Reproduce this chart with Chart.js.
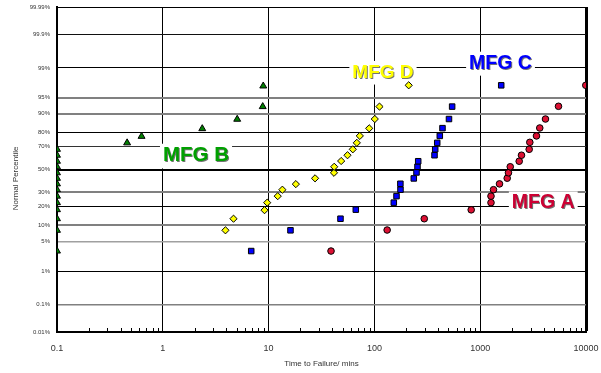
<!DOCTYPE html>
<html><head><meta charset="utf-8">
<script src="https://cdn.jsdelivr.net/npm/chart.js@4/dist/chart.umd.min.js"></script>
<style>html,body{margin:0;padding:0;background:#fff}#wrap{width:601px;height:373px;position:relative}</style>
</head><body><div id="wrap"><canvas id="c" width="601" height="373"></canvas></div>
<script>
// ---- data ----
const percentTicks = [0.01, 0.1, 1, 5, 10, 20, 30, 50, 70, 80, 90, 95, 99, 99.9, 99.99];
const percentTickLabels = ['0.01%','0.1%','1%','5%','10%','20%','30%','50%','70%','80%','90%','95%','99%','99.9%','99.99%'];
const timeTicks = [0.1, 1, 10, 100, 1000, 10000];
const timeTickLabels = ['0.1','1','10','100','1000','10000'];

const mfgA_time = [38.9,132,296,822,1265,1265,1336,1522,1800,1850,1923,2337,2456,2904,2944,3404,3656,4140,5496,9955];
const mfgA_pct  = [3.1,8.3,13.0,17.8,22.4,27.1,32.2,37.1,42.1,47.0,52.5,57.5,62.8,67.8,73.3,77.9,82.9,87.6,92.6,97.3];

const mfgB_time = [0.1,0.1,0.1,0.1,0.1,0.1,0.1,0.1,0.1,0.1,0.1,0.1,0.1,0.1,0.46,0.63,2.36,5.05,8.8,8.9];
const mfgB_pct  = [3.1,8.2,13.0,17.9,22.4,27.1,32.2,37.1,42.0,47.0,52.5,57.5,62.8,67.8,72.9,77.6,82.5,87.5,92.5,97.2];

const mfgC_time = [6.85,16.1,47.8,66.7,152.5,161.8,176.4,176,235.6,250,255.5,259.4,370,375.6,392.5,415,440,507,543,1580];
const mfgC_pct  = [3.1,8.2,13.0,17.9,22.4,27.1,32.2,37.2,41.9,47.3,52.5,57.5,62.8,67.8,72.9,77.9,82.8,87.6,92.5,97.3];

const mfgD_time = [3.91,4.66,9.15,9.7,12.2,13.5,18.1,27.5,41.5,41.7,48.5,55.7,62.5,68.2,72.8,89.3,100.9,111.7,211];
const mfgD_pct  = [8.2,13.0,17.6,22.4,27.1,32.2,36.9,42.0,47.0,52.5,57.7,62.8,67.8,72.9,77.9,82.7,87.6,92.5,97.3];

const noteTexts = ['MFG A','MFG B','MFG C','MFG D'];
const noteTimes = [3945, 2.06, 1556, 120.5];
const notePcts  = [23.25, 63.8, 99.32, 98.81];

// ---- styles ----
const noteColors = ['#cc0033','#00a000','#0000ff','#ffff00'];
const noteSizes = [19.5, 20.5, 19.5, 19];
const FONT = '"Liberation Sans", Arial, Helvetica, sans-serif';
const yGrid = {
  0.01:['rgba(0,0,0,0)',1], 0.1:['#808080',1.5], 1:['#000',1], 5:['#a0a0a0',1.5], 10:['#808080',2],
  20:['#000',1], 30:['#808080',2], 50:['#000',2], 70:['#333',1], 80:['#000',1], 90:['#808080',2],
  95:['#808080',2], 99:['#000',1], 99.9:['#111',1], 99.99:['#000',1]
};

// inverse normal CDF (normal probability scale transform)
function probit(p){
  const a=[-3.969683028665376e+01,2.209460984245205e+02,-2.759285104469687e+02,1.383577518672690e+02,-3.066479806614716e+01,2.506628277459239e+00];
  const b=[-5.447609879822406e+01,1.615858368580409e+02,-1.556989798598866e+02,6.680131188771972e+01,-1.328068155288572e+01];
  const c=[-7.784894002430293e-03,-3.223964580411365e-01,-2.400758277161838e+00,-2.549732539343734e+00,4.374664141464968e+00,2.938163982698783e+00];
  const d=[7.784695709041462e-03,3.224671290700398e-01,2.445134137142996e+00,3.754408661907416e+00];
  const pl=0.02425, ph=1-pl; let q,r;
  if(p<pl){q=Math.sqrt(-2*Math.log(p));return (((((c[0]*q+c[1])*q+c[2])*q+c[3])*q+c[4])*q+c[5])/((((d[0]*q+d[1])*q+d[2])*q+d[3])*q+1);}
  if(p>ph){q=Math.sqrt(-2*Math.log(1-p));return -(((((c[0]*q+c[1])*q+c[2])*q+c[3])*q+c[4])*q+c[5])/((((d[0]*q+d[1])*q+d[2])*q+d[3])*q+1);}
  q=p-0.5;r=q*q;return (((((a[0]*r+a[1])*r+a[2])*r+a[3])*r+a[4])*r+a[5])*q/(((((b[0]*r+b[1])*r+b[2])*r+b[3])*r+b[4])*r+1);
}
const pts = (t, p) => t.map((v,i)=>({x:v, y:probit(p[i]/100)}));

const notesPlugin = {
  id:'notes',
  beforeDatasetsDraw(chart){
    const {ctx, scales:{x, y}} = chart;
    ctx.save();
    noteTexts.forEach((t,i)=>{
      const fs = noteSizes[i];
      ctx.font = 'bold ' + fs + 'px ' + FONT;
      const cx = x.getPixelForValue(noteTimes[i]);
      const cy = y.getPixelForValue(probit(notePcts[i]/100));
      const w = ctx.measureText(t).width;
      const cap = fs*0.716;
      ctx.fillStyle = '#fff';
      ctx.fillRect(cx - w/2 - 3, cy - cap/2 - 3, w + 6, cap + 10);
      ctx.shadowColor = 'rgba(0,0,0,0.55)'; ctx.shadowOffsetX = 1; ctx.shadowOffsetY = 1; ctx.shadowBlur = 0.5;
      ctx.fillStyle = noteColors[i];
      ctx.textAlign = 'center'; ctx.textBaseline = 'alphabetic';
      ctx.fillText(t, cx, cy + cap/2);
      ctx.shadowColor = 'rgba(0,0,0,0)';
    });
    ctx.restore();
  }
};

const minorTicksPlugin = {
  id:'minorTicks',
  beforeDatasetsDraw(chart){
    const {ctx, chartArea, scales:{x}} = chart;
    ctx.save();
    ctx.strokeStyle = '#000'; ctx.lineWidth = 1;
    ctx.beginPath();
    timeTicks.slice(0,-1).forEach(dec=>{
      for(let m=2;m<=9;m++){
        const px = Math.round(x.getPixelForValue(dec*m)) + 0.5;
        ctx.moveTo(px, chartArea.bottom);
        ctx.lineTo(px, chartArea.bottom - 4);
      }
    });
    ctx.stroke();
    ctx.restore();
  }
};

new Chart(document.getElementById('c'), {
  type:'scatter',
  data:{datasets:[
    {label:'MFG B', data:pts(mfgB_time, mfgB_pct), pointStyle:'triangle', pointRadius:4, backgroundColor:'#008000', borderColor:'#000', borderWidth:1, clip:0},
    {label:'MFG D', data:pts(mfgD_time, mfgD_pct), pointStyle:'rectRot', pointRadius:3.6, backgroundColor:'#ffff00', borderColor:'#000', borderWidth:1, clip:0},
    {label:'MFG C', data:pts(mfgC_time, mfgC_pct), pointStyle:'rect', pointRadius:3.9, backgroundColor:'#0000ff', borderColor:'#000', borderWidth:1, clip:0},
    {label:'MFG A', data:pts(mfgA_time, mfgA_pct), pointStyle:'circle', pointRadius:3.3, backgroundColor:'#dd1033', borderColor:'#000', borderWidth:1, clip:0}
  ]},
  options:{
    responsive:false, animation:false, devicePixelRatio:1,
    layout:{padding:{left:0, right:15, top:7, bottom:0}},
    plugins:{legend:{display:false}, tooltip:{enabled:false}},
    scales:{
      x:{
        type:'logarithmic', min:0.1, max:10000, position:'bottom',
        afterBuildTicks: s => { s.ticks = timeTicks.map(v=>({value:v, major:true})); },
        afterFit: s => { s.height = 41; s.paddingLeft = 0; s.paddingRight = 0; },
        ticks:{autoSkip:false, maxRotation:0, minRotation:0, padding:11, color:'#333',
               font:{family:FONT, size:9}, callback:(v,i)=>timeTickLabels[i]},
        grid:{drawTicks:false,
              color: c => (c.index===0 ? 'rgba(0,0,0,0)' : '#000'),
              lineWidth: c => (c.index===timeTicks.length-1 ? 3 : 1)},
        border:{display:true, color:'#000', width:2},
        title:{display:true, text:'Time to Failure/ mins', color:'#333', font:{family:FONT, size:8}, padding:{top:0, bottom:4}}
      },
      y:{
        type:'linear', min:probit(0.0001), max:probit(0.9999),
        afterBuildTicks: s => { s.ticks = percentTicks.map(p=>({value:probit(p/100)})); },
        afterFit: s => { s.width = 57; s.paddingTop = 0; s.paddingBottom = 0; },
        ticks:{padding:7, color:'#333', font:{family:FONT, size:6}, callback:(v,i)=>percentTickLabels[i]},
        grid:{drawTicks:false,
              color: c => yGrid[percentTicks[c.index]][0],
              lineWidth: c => yGrid[percentTicks[c.index]][1]},
        border:{display:true, color:'#000', width:2},
        title:{display:true, text:'Normal Percentile        ', color:'#333', font:{family:FONT, size:8}, padding:{top:11, bottom:0}}
      }
    }
  },
  plugins:[notesPlugin, minorTicksPlugin]
});
</script>
</body></html>
